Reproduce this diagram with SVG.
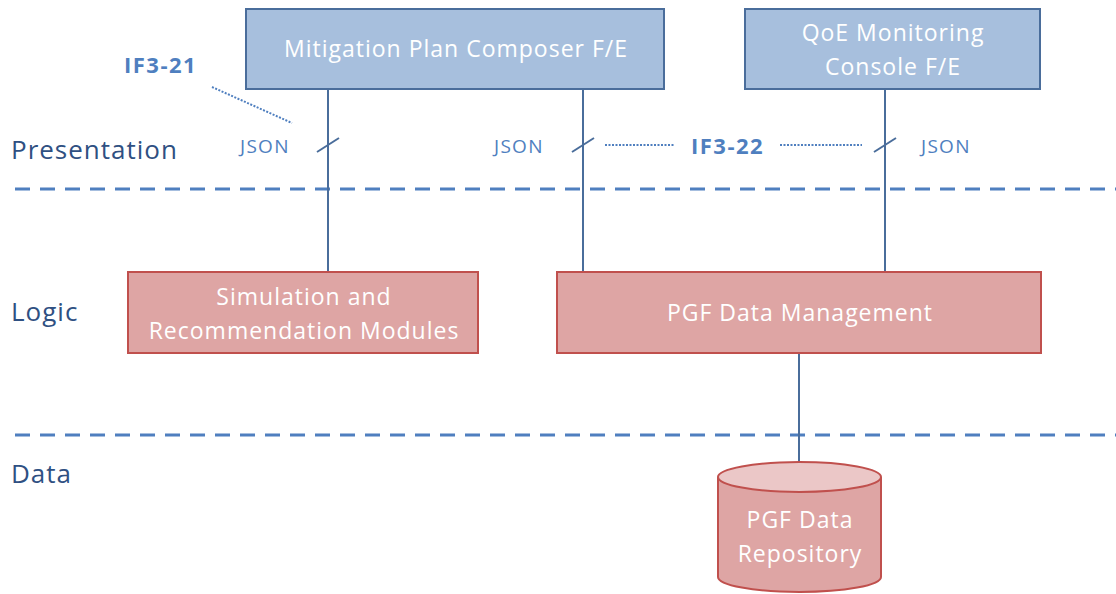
<svg xmlns="http://www.w3.org/2000/svg" width="1116" height="594" viewBox="0 0 1116 594">
<style>
.blue{fill:#a7bfdd;stroke:#4a6d9b;stroke-width:2}
.red{fill:#dea5a4;stroke:#c0504d;stroke-width:2}
.bt{font-family:"Open Sans","Liberation Sans",sans-serif;font-size:23px;letter-spacing:1px;fill:#ffffff;text-anchor:middle}
.layer{font-family:"Open Sans","Liberation Sans",sans-serif;font-size:26px;letter-spacing:1px;fill:#2f5082}
.json{font-family:"Open Sans","Liberation Sans",sans-serif;font-size:19px;letter-spacing:1.3px;fill:#4f7fbf}
.if{font-family:"Open Sans","Liberation Sans",sans-serif;font-size:22px;letter-spacing:1.5px;font-weight:bold;fill:#4f7fbf}
.conn{stroke:#4a6d9b;stroke-width:2;fill:none}
.dash{stroke:#4f7fbf;stroke-width:3;stroke-dasharray:15 10;fill:none}
.dot{stroke:#4f7fbf;stroke-width:2;stroke-dasharray:2 1.5;fill:none}
</style>
<rect width="1116" height="594" fill="#ffffff"/>
<g id="layers">
<text class="layer" x="11" y="159">Presentation</text>
<text class="layer" x="11" y="321">Logic</text>
<text class="layer" x="11" y="483">Data</text>
<line class="dash" x1="15" y1="189" x2="1116" y2="189"/>
<line class="dash" x1="15" y1="435" x2="1116" y2="435"/>
</g>
<g id="connectors">
<line class="conn" x1="328" y1="89" x2="328" y2="272"/>
<line class="conn" x1="583" y1="89" x2="583" y2="272"/>
<line class="conn" x1="885" y1="89" x2="885" y2="272"/>
<line class="conn" x1="799" y1="353" x2="799" y2="462"/>
<line class="conn" x1="317" y1="152" x2="339" y2="138"/>
<line class="conn" x1="572" y1="152" x2="594" y2="138"/>
<line class="conn" x1="874" y1="152" x2="896" y2="138"/>
<line class="dot" x1="212" y1="87" x2="292" y2="123"/>
<line class="dot" x1="605" y1="145" x2="674" y2="145"/>
<line class="dot" x1="780" y1="145" x2="862" y2="145"/>
<text class="json" x="240" y="153">JSON</text>
<text class="json" x="494" y="153">JSON</text>
<text class="json" x="921" y="153">JSON</text>
<text class="if" x="124" y="73">IF3-21</text>
<text class="if" x="691" y="154">IF3-22</text>
</g>
<g id="mitigation">
<rect class="blue" x="246" y="9" width="418" height="80"/>
<text class="bt" x="456" y="57">Mitigation Plan Composer F/E</text>
</g>
<g id="qoe">
<rect class="blue" x="745" y="9" width="295" height="80"/>
<text class="bt" x="893" y="41">QoE Monitoring</text>
<text class="bt" x="893" y="75">Console F/E</text>
</g>
<g id="simulation">
<rect class="red" x="128" y="272" width="350" height="81"/>
<text class="bt" x="304" y="305">Simulation and</text>
<text class="bt" x="304" y="339">Recommendation Modules</text>
</g>
<g id="pgfdm">
<rect class="red" x="557" y="272" width="484" height="81"/>
<text class="bt" x="800" y="321">PGF Data Management</text>
</g>
<g id="repository">
<path d="M718 477 L718 577 A81.5 15 0 0 0 881 577 L881 477" fill="#dea5a4" stroke="#c0504d" stroke-width="2"/>
<ellipse cx="799.5" cy="477" rx="81.5" ry="15" fill="#ebc7c7" stroke="#c0504d" stroke-width="2"/>
<text class="bt" x="800" y="528">PGF Data</text>
<text class="bt" x="800" y="562">Repository</text>
</g>
</svg>
